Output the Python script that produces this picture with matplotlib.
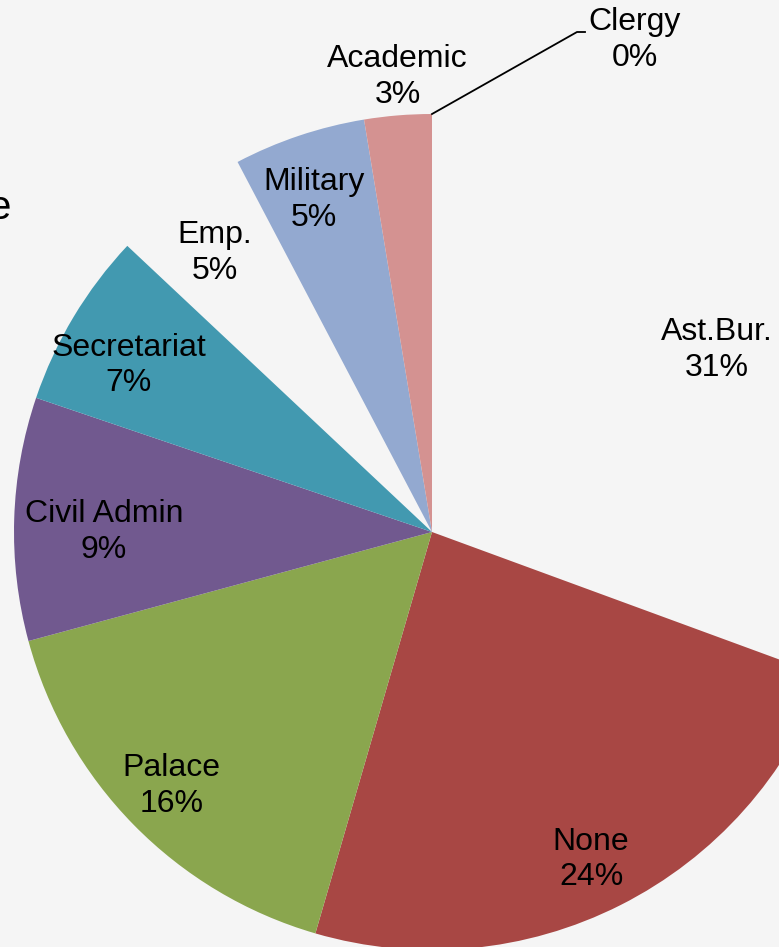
import matplotlib.pyplot as plt
import numpy as np

plt.rcParams['font.family'] = ['Liberation Sans', 'DejaVu Sans']

# slice data (percent of total), clockwise from 12 o'clock
categories = ['Ast.Bur.', 'None', 'Palace', 'Civil Admin', 'Secretariat',
              'Emp.', 'Military', 'Academic', 'Clergy']
shares = [30.6, 23.9, 16.3, 9.4, 6.8, 5.3, 5.1, 2.6, 0.0]

colors = ['none', '#A84744', '#8AA64E', '#71598F', '#4299B0',
          'none', '#93A9D0', '#D49291', 'none']
# radial position of each label (fraction of radius) and a small nudge in px
label_r = [0.82, 0.87, 0.86, 0.78, 0.83, 0.85, 0.85, 1.10, None]
nudge = [(4, 14), (-5, 3), (-4, 2), (-2, 10), (-6, 12), (-2, 4), (-5, 5), (3, 3), (0, 0)]

W, H = 779, 947
R = 418.0          # pie radius in px
cx, cy = 432, 532  # pie centre in px

fig = plt.figure(figsize=(W / 100, H / 100), dpi=100)
fig.patch.set_facecolor('#f5f5f5')
ax = fig.add_axes([0, 0, 1, 1])
ax.set_facecolor('#f5f5f5')

wedges, _ = ax.pie(shares, colors=colors, startangle=90, counterclock=False,
                   wedgeprops=dict(linewidth=0))

for w, name, val, r, (ndx, ndy) in zip(wedges, categories, shares, label_r, nudge):
    if r is None:
        continue
    ang = np.deg2rad((w.theta1 + w.theta2) / 2)
    ax.text(r * np.cos(ang) + ndx / R, r * np.sin(ang) - ndy / R,
            '%s\n%d%%' % (name, round(val)),
            ha='center', va='center', fontsize=23, linespacing=1.25)

# Clergy (0 %) gets a leader line from the top of the pie
top = np.deg2rad(wedges[-1].theta1)
x0, y0 = np.cos(top), np.sin(top)
x1, y1 = (577 - cx) / R, (cy - 32) / R
x2 = (585 - cx) / R
ax.plot([x0, x1, x2], [y0, y1, y1], color='black', lw=1.3)
ax.text((635 - cx) / R, (cy - 40) / R, '%s\n%d%%' % (categories[-1], round(shares[-1])),
        ha='center', va='center', fontsize=23, linespacing=1.25)

# cut-off title fragment at the left edge
ax.text((11 - cx) / R, (cy - 208) / R, 'e', ha='right', va='center', fontsize=29)

ax.set_xlim(-cx / R, (W - cx) / R)
ax.set_ylim(-(H - cy) / R, cy / R)
ax.set_aspect('auto')
ax.axis('off')

fig.savefig('out.png', dpi=100, facecolor=fig.get_facecolor())
